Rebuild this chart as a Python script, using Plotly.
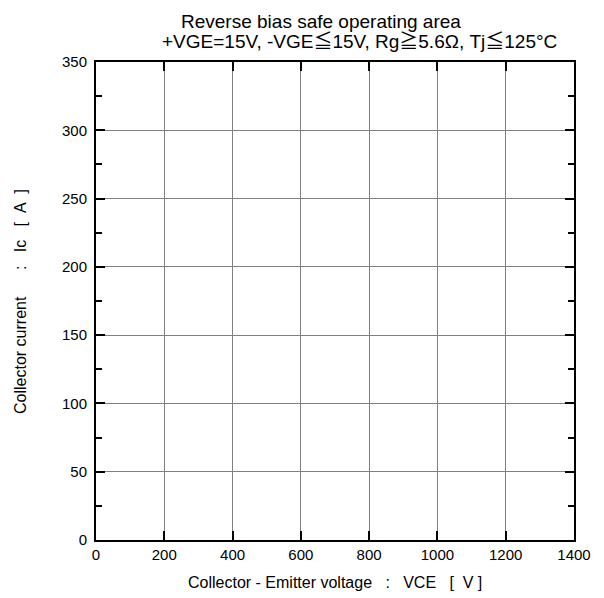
import plotly.graph_objects as go

x_range = [0, 1400]
y_range = [0, 350]
x_ticks = [0, 200, 400, 600, 800, 1000, 1200, 1400]
y_ticks = [0, 50, 100, 150, 200, 250, 300, 350]
y_minor_step = 25
title_line1 = "Reverse bias safe operating area"
title_line2 = "+VGE=15V, -VGE≦15V, Rg≧5.6Ω, Tj≦125°C"
NB = "\u00a0"
x_title = f"Collector - Emitter voltage{NB*3}:{NB*3}VCE{NB*3}[{NB*2}V{NB}]"
y_title = f"Collector current{NB*6}:{NB*3}Ic{NB*3}[{NB*2}A{NB*2}]"

FONT = "Liberation Sans, Arial, Noto Sans CJK JP, sans-serif"

# plot area in page px: x 96..574, y 62..540 (page has 8px body margin)
PX0, PY0, PW, PH = 96, 62, 478, 478


def px(xp):
    return (xp - PX0) / PW


def py(yp):
    return 1 + (PY0 - yp) / PH


fig = go.Figure()
fig.add_trace(go.Scatter(x=[], y=[], mode="lines", showlegend=False))

axis_common = dict(
    showline=True, linecolor="black", linewidth=2, mirror="ticks",
    ticks="inside", ticklen=9, tickwidth=2, tickcolor="black",
    showgrid=True, gridcolor="#808080", gridwidth=1,
    zeroline=False,
    tickfont=dict(family=FONT, size=15, color="black"),
)

fig.update_xaxes(range=x_range, tickvals=x_ticks, ticktext=[str(v) for v in x_ticks],
                 **axis_common)
fig.update_yaxes(range=y_range, tickvals=y_ticks, ticktext=[str(v) for v in y_ticks],
                 ticklabelstandoff=4,
                 minor=dict(ticks="inside", dtick=y_minor_step, ticklen=6, tickwidth=2,
                            tickcolor="black", showgrid=False),
                 **axis_common)

fig.add_annotation(text=title_line1, xref="paper", yref="paper", x=px(321), y=py(21),
                   showarrow=False, xanchor="center", yanchor="middle", borderpad=0,
                   font=dict(family=FONT, size=19, color="black"))
fig.add_annotation(text=title_line2, xref="paper", yref="paper", x=px(359), y=py(41),
                   showarrow=False, xanchor="center", yanchor="middle", borderpad=0,
                   font=dict(family=FONT, size=19, color="black"))
fig.add_annotation(text=x_title, xref="paper", yref="paper", x=px(335), y=py(582),
                   showarrow=False, xanchor="center", yanchor="middle",
                   font=dict(family=FONT, size=16, color="black"))
fig.add_annotation(text=y_title, xref="paper", yref="paper", x=px(20), y=py(302),
                   showarrow=False, xanchor="center", yanchor="middle", textangle=-90,
                   font=dict(family=FONT, size=16, color="black"))

fig.update_layout(
    width=596, height=590,
    margin=dict(l=88, r=30, t=54, b=58),
    plot_bgcolor="white", paper_bgcolor="white",
    font=dict(family=FONT, color="black"),
)

fig.write_html("out.html")
